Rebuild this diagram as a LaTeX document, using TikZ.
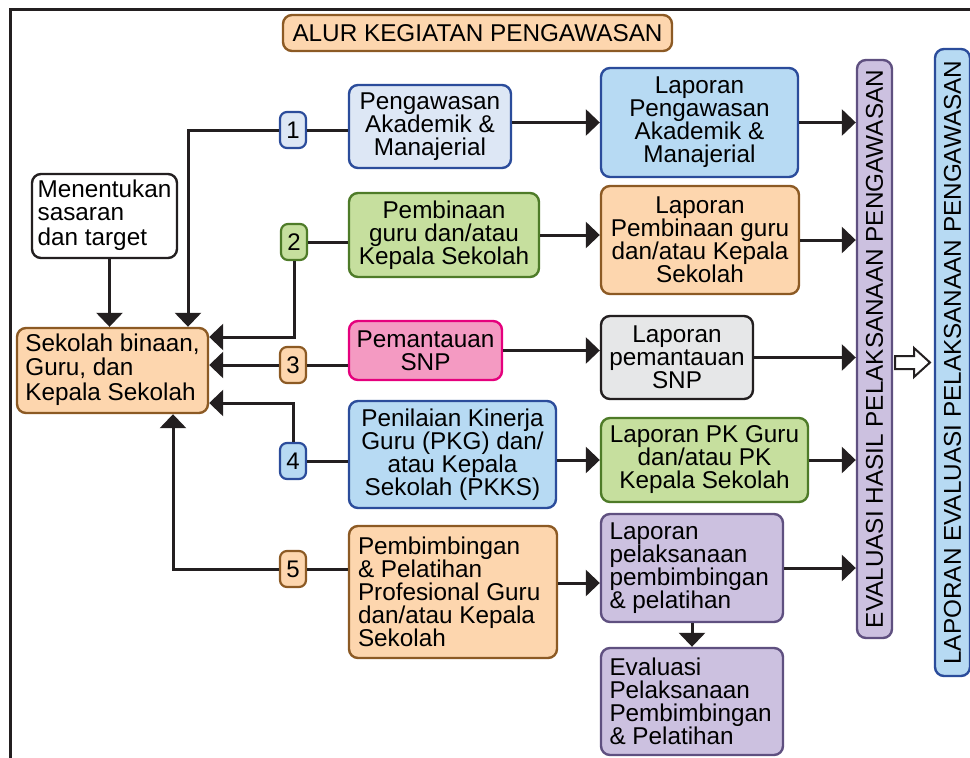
\documentclass[tikz,border=0pt]{standalone}
\usepackage{fontspec}
\setmainfont{Liberation Sans}
\usetikzlibrary{arrows.meta}
\definecolor{lc}{HTML}{231F20}
\definecolor{orF}{HTML}{FDD6AE}\definecolor{orD}{HTML}{8C5A24}
\definecolor{lbF}{HTML}{DDE7F5}\definecolor{blD}{HTML}{2B4C9B}
\definecolor{blF}{HTML}{B7DAF3}
\definecolor{grF}{HTML}{C6DF9E}\definecolor{grD}{HTML}{4E7B28}
\definecolor{pkF}{HTML}{F49AC2}\definecolor{pkD}{HTML}{E5007D}
\definecolor{gyF}{HTML}{E6E7E8}
\definecolor{puF}{HTML}{CCC1E0}\definecolor{puD}{HTML}{5F5080}
\tikzset{
  box/.style={draw, rounded corners=9pt, line width=2.4pt, inner sep=0pt, align=center,
    font=\fontsize{24.3}{23}\selectfont, text=black},
  badge/.style={draw, rounded corners=7pt, line width=2.2pt, inner sep=0pt,
    minimum width=26pt, minimum height=36pt, font=\fontsize{24}{23}\selectfont},
  orange/.style={fill=orF, draw=orD},
  lblue/.style={fill=lbF, draw=blD},
  blue/.style={fill=blF, draw=blD},
  green/.style={fill=grF, draw=grD},
  pink/.style={fill=pkF, draw=pkD},
  gray/.style={fill=gyF, draw=lc},
  purple/.style={fill=puF, draw=puD},
  white/.style={fill=white, draw=lc},
  arr/.style={draw=lc, line width=3pt, -{Triangle[length=14pt,width=26pt]}},
  ln/.style={draw=lc, line width=3pt},
}
\begin{document}
\begin{tikzpicture}[x=1pt,y=-1pt]
\useasboundingbox (0,0) rectangle (970,758);
\clip (0,0) rectangle (970,758);
% frame
\draw[lc, line width=3pt] (10,760) -- (10,9) -- (975,9);

% title
\node[box, orange, minimum width=389pt, minimum height=36pt] (title) at (477.5,33) {ALUR KEGIATAN PENGAWASAN};

% left column
\node[box, white, minimum width=145pt, minimum height=84pt] (men) at (104.5,216)
  {\begin{tabular}{@{}l@{}}Menentukan\\sasaran\\dan target\end{tabular}};
\node[box, orange, minimum width=191pt, minimum height=85pt] (sek) at (112.5,370.5)
  {\begin{tabular}{@{}l@{}}Sekolah binaan,\\Guru, dan\\Kepala Sekolah\end{tabular}};

% badges
\node[badge, lblue] (b1) at (293,130) {1};
\node[badge, green] (b2) at (294,242) {2};
\node[badge, orange] (b3) at (293,365) {3};
\node[badge, blue] (b4) at (293,461) {4};
\node[badge, orange] (b5) at (293,569) {5};

% activities
\node[box, lblue, minimum width=162pt, minimum height=83pt] (pa) at (430,126.5)
  {Pengawasan\\Akademik \&\\Manajerial};
\node[box, green, minimum width=190pt, minimum height=84pt] (pb) at (444,235)
  {Pembinaan\\guru dan/atau\\Kepala Sekolah};
\node[box, pink, minimum width=153pt, minimum height=59pt] (ps) at (425.5,350.5)
  {Pemantauan\\SNP};
\node[box, blue, minimum width=207pt, minimum height=107pt] (pk) at (452.5,454.5)
  {Penilaian Kinerja\\Guru (PKG) dan/\\atau Kepala\\Sekolah (PKKS)};
\node[box, orange, minimum width=208pt, minimum height=132pt] (pp) at (453,592)
  {\begin{minipage}{190pt}Pembimbingan\\\& Pelatihan\\Profesional Guru\\dan/atau Kepala\\Sekolah\end{minipage}};

% reports
\node[box, blue, minimum width=197pt, minimum height=109pt] (lpa) at (699.5,122.5)
  {Laporan\\Pengawasan\\Akademik \&\\Manajerial};
\node[box, orange, minimum width=198pt, minimum height=108pt] (lpb) at (700,240)
  {Laporan\\Pembinaan guru\\dan/atau Kepala\\Sekolah};
\node[box, gray, minimum width=152pt, minimum height=83pt] (lps) at (677,357.5)
  {Laporan\\pemantauan\\SNP};
\node[box, green, minimum width=207pt, minimum height=84pt] (lpk) at (704.5,460)
  {Laporan PK Guru\\dan/atau PK\\Kepala Sekolah};
\node[box, purple, minimum width=182pt, minimum height=108pt] (lpp) at (692,568)
  {\begin{minipage}{165pt}Laporan\\pelaksanaan\\pembimbingan\\\& pelatihan\end{minipage}};
\node[box, purple, minimum width=182pt, minimum height=107pt] (evp) at (692,701.5)
  {\begin{minipage}{165pt}Evaluasi\\Pelaksanaan\\Pembimbingan\\\& Pelatihan\end{minipage}};

% vertical bars
\node[box, purple, minimum width=35pt, minimum height=578pt] (evb) at (874.5,349)
  {\rotatebox{90}{EVALUASI HASIL PELAKSANAAN PENGAWASAN}};
\node[box, blue, minimum width=35pt, minimum height=627pt] (leb) at (952.5,362.5)
  {\rotatebox{90}{LAPORAN EVALUASI PELAKSANAAN PENGAWASAN}};

% connectors into Sekolah
\draw[arr] ([xshift=5pt]men.south) -- ([xshift=5pt]men.south |- sek.north);
\draw[arr] (b1.west) -| ([xshift=75.5pt]sek.north);
\draw[arr] (b2.south) |- ([yshift=33.5pt]sek.east);
\draw[arr] (b3.west) -- (b3.west -| sek.east);
\draw[arr] (b4.north) |- ([yshift=-32.5pt]sek.east);
\draw[arr] (b5.west) -| ([xshift=60.5pt]sek.south);

% badges to activities
\draw[ln] (b1.east) -- (b1.east -| pa.west);
\draw[ln] (b2.east) -- (b2.east -| pb.west);
\draw[ln] (b3.east) -- (b3.east -| ps.west);
\draw[ln] (b4.east) -- (b4.east -| pk.west);
\draw[ln] (b5.east) -- (b5.east -| pp.west);

% activities to reports
\draw[arr] (lpa.west -| pa.east) -- (lpa.west);
\draw[arr] (pb.east) -- (pb.east -| lpb.west);
\draw[arr] (ps.east) -- (ps.east -| lps.west);
\draw[arr] (lpk.west -| pk.east) -- (lpk.west);
\draw[arr] ([yshift=9pt]pp.east) -- ([yshift=9pt]pp.east -| lpp.west);

% reports to evaluation bar
\draw[arr] (lpa.east) -- (lpa.east -| evb.west);
\draw[arr] (lpb.east) -- (lpb.east -| evb.west);
\draw[arr] (lps.east) -- (lps.east -| evb.west);
\draw[arr] (lpk.east) -- (lpk.east -| evb.west);
\draw[arr] (lpp.east) -- (lpp.east -| evb.west);
\draw[arr] (lpp.south) -- (evp.north);

% hollow arrow between bars
\draw[lc, line width=2pt, fill=white, line join=miter]
  (895,356) -- (914,356) -- (914,348) -- (930,362.5) -- (914,377) -- (914,369) -- (895,369) -- cycle;
\end{tikzpicture}
\end{document}
